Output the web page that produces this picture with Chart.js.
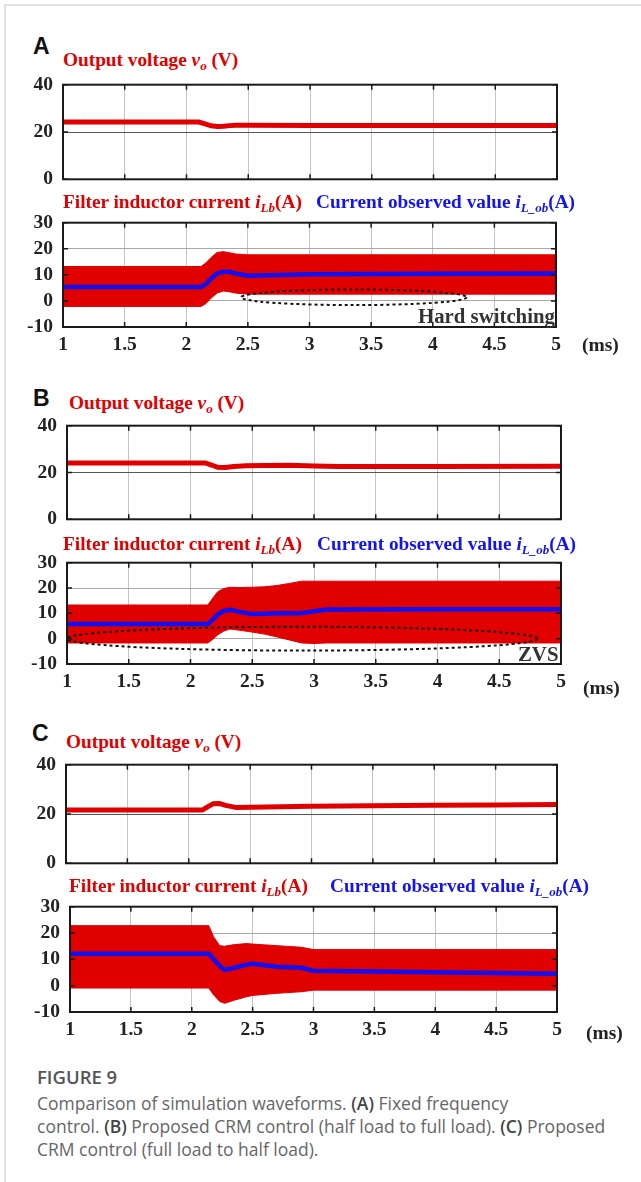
<!DOCTYPE html>
<html>
<head>
<meta charset="utf-8">
<script src="https://cdn.jsdelivr.net/npm/chart.js@4.4.1/dist/chart.umd.min.js"></script>
<style>
body{margin:0;background:#fff}
#fig{position:relative;width:641px;height:1182px;overflow:hidden}
#frame{position:absolute;left:4px;top:4px;width:640px;height:1180px;border-top:2px solid #e2e2e2;border-left:2px solid #e2e2e2}
canvas{position:absolute}
.t{position:absolute;font-family:"Liberation Serif","Times New Roman",serif;font-weight:bold;font-size:19.3px;line-height:19px;white-space:nowrap}
.t sub{font-size:13px;line-height:0;vertical-align:-4px}
.red{color:#e00000}
.blue{color:#1414f0}
.lab{position:absolute;font-family:"Liberation Sans",Arial,sans-serif;font-weight:bold;font-size:23px;line-height:23px;color:#111}
.ms{position:absolute;font-family:"Liberation Serif",serif;font-weight:bold;font-size:19.5px;line-height:20px;color:#222}
.note{position:absolute;font-family:"Liberation Serif",serif;font-weight:bold;font-size:20.8px;line-height:20px;color:#333;white-space:nowrap}
.cap{position:absolute;left:37px;font-family:"Open Sans",sans-serif;font-size:17.5px;line-height:20px;color:#666;white-space:nowrap}
.cap b{color:#444;font-weight:600}
</style>
</head>
<body>
<div id="fig">
  <div id="frame"></div>

  <div class="lab" style="left:33px;top:35px">A</div>
  <div class="t red" style="left:63px;top:50px">Output voltage <i>v<sub>o</sub></i>&nbsp;(V)</div>
  <canvas id="av"></canvas>
  <div class="t red" style="left:63px;top:192px">Filter inductor current <i>i<sub>Lb</sub></i>(A)</div>
  <div class="t blue" style="left:316px;top:192px">Current observed value <i>i<sub>L_ob</sub></i>(A)</div>
  <canvas id="ai"></canvas>
  <div class="note" style="left:418px;top:306px">Hard switching</div>
  <div class="ms" style="left:582px;top:335px">(ms)</div>

  <div class="lab" style="left:33px;top:387px">B</div>
  <div class="t red" style="left:69px;top:393px">Output voltage <i>v<sub>o</sub></i>&nbsp;(V)</div>
  <canvas id="bv"></canvas>
  <div class="t red" style="left:63px;top:534px">Filter inductor current <i>i<sub>Lb</sub></i>(A)</div>
  <div class="t blue" style="left:317px;top:534px">Current observed value <i>i<sub>L_ob</sub></i>(A)</div>
  <canvas id="bi"></canvas>
  <div class="note" style="left:518px;top:644px">ZVS</div>
  <div class="ms" style="left:583px;top:678px">(ms)</div>

  <div class="lab" style="left:32px;top:722px">C</div>
  <div class="t red" style="left:66px;top:732px">Output voltage <i>v<sub>o</sub></i>&nbsp;(V)</div>
  <canvas id="cv"></canvas>
  <div class="t red" style="left:69px;top:876px">Filter inductor current <i>i<sub>Lb</sub></i>(A)</div>
  <div class="t blue" style="left:330px;top:876px">Current observed value <i>i<sub>L_ob</sub></i>(A)</div>
  <canvas id="ci"></canvas>
  <div class="ms" style="left:586px;top:1023px">(ms)</div>

  <div class="cap" style="top:1067px;font-size:18.5px;font-weight:600;color:#555">FIGURE 9</div>
  <div class="cap" style="top:1093px">Comparison of simulation waveforms. <b>(A)</b> Fixed frequency</div>
  <div class="cap" style="top:1116px">control. <b>(B)</b> Proposed CRM control (half load to full load). <b>(C)</b> Proposed</div>
  <div class="cap" style="top:1139px">CRM control (full load to half load).</div>
</div>

<script>
// (A) fixed frequency
const tAv = [1, 2.1, 2.15, 2.2, 2.25, 2.3, 2.35, 2.4, 2.5, 3, 4, 5]
const vA = [24.2, 24.2, 23.4, 22.6, 22.3, 22.4, 22.7, 22.9, 22.9, 22.8, 22.8, 22.8]
const tAi = [1, 2.12, 2.16, 2.2, 2.25, 2.3, 2.35, 2.4, 2.5, 3, 4, 5]
const iAmax = [13.2, 13.2, 14.6, 16.6, 18.6, 18.9, 18.5, 18.0, 17.7, 17.7, 17.7, 17.7]
const iAmin = [-2.1, -2.1, -1.0, 1.0, 3.0, 3.8, 3.5, 3.0, 2.6, 2.6, 2.6, 2.6]
const iAob = [5.3, 5.3, 6.5, 8.5, 10.5, 11.2, 11.2, 10.5, 9.7, 10.2, 10.4, 10.5]

// (B) CRM, half load -> full load
const tBv = [1, 2.12, 2.17, 2.22, 2.28, 2.35, 2.45, 2.6, 2.8, 3.0, 3.2, 4, 5]
const vB = [24.1, 24.1, 23.2, 22.2, 22.1, 22.6, 22.9, 23.0, 23.1, 22.8, 22.6, 22.6, 22.7]
const tBi = [1, 2.14, 2.18, 2.22, 2.27, 2.32, 2.4, 2.5, 2.6, 2.7, 2.8, 2.9, 3.0, 3.1, 4, 5]
const iBmax = [13.3, 13.3, 16.0, 18.5, 19.8, 20.3, 20.2, 20.3, 20.5, 21.0, 21.8, 22.7, 22.7, 22.7, 22.7, 22.7]
const iBmin = [-1.7, -1.7, -0.3, 1.5, 3.0, 3.8, 3.3, 2.6, 1.8, 0.7, -0.5, -1.7, -1.9, -1.7, -1.7, -1.7]
const iBob = [5.8, 5.8, 7.5, 9.5, 11.0, 11.4, 10.6, 9.7, 9.8, 10.0, 10.0, 10.1, 10.8, 11.5, 11.6, 11.6]

// (C) CRM, full load -> half load
const tCv = [1, 2.11, 2.15, 2.2, 2.25, 2.3, 2.39, 2.5, 3, 3.5, 4, 4.5, 5]
const vC = [21.6, 21.6, 22.8, 24.2, 24.3, 23.5, 22.6, 22.7, 23.1, 23.3, 23.5, 23.7, 23.9]
const tCi = [1, 2.14, 2.18, 2.23, 2.27, 2.35, 2.45, 2.5, 2.7, 2.9, 3.0, 4, 5]
const iCmax = [22.8, 22.8, 18.5, 15.2, 15.0, 15.6, 16.0, 15.8, 15.2, 14.6, 13.7, 13.7, 13.7]
const iCmin = [-0.9, -0.9, -3.5, -6.0, -6.7, -5.5, -4.2, -3.7, -2.9, -2.3, -1.7, -1.7, -1.7]
const iCob = [12.1, 12.1, 10.0, 7.5, 6.0, 6.8, 8.0, 8.3, 7.2, 6.8, 5.7, 5.1, 4.5]

// dashed ellipses (data units: ms, A)
const ellA = {cx: 3.36, cy: 1.4, rx: 0.915, ry: 3.0}
const ellB = {cx: 2.905, cy: 0, rx: 1.905, ry: 4.7}

const RED = '#e00000'
const BLUE = '#1010f0'
const tickFont = {family: '"Liberation Serif", "Times New Roman", serif', weight: 'bold', size: 19.5}

function pts(ts, vs){
  return ts.map((t, i) => ({x: t, y: vs[i]}))
}

// box + inward tick marks
const boxPlugin = {
  id: 'box',
  afterDraw(chart){
    const {ctx, chartArea: a, scales: {x, y}} = chart
    ctx.save()
    ctx.strokeStyle = '#1a1a1a'
    ctx.lineWidth = 2
    ctx.strokeRect(a.left, a.top, a.right - a.left, a.bottom - a.top)
    ctx.lineWidth = 1.5
    ctx.beginPath()
    x.ticks.forEach(tk => {
      const px = x.getPixelForValue(tk.value)
      ctx.moveTo(px, a.top); ctx.lineTo(px, a.top + 5)
      ctx.moveTo(px, a.bottom); ctx.lineTo(px, a.bottom - 5)
    })
    y.ticks.forEach(tk => {
      const py = y.getPixelForValue(tk.value)
      ctx.moveTo(a.left, py); ctx.lineTo(a.left + 5, py)
      ctx.moveTo(a.right, py); ctx.lineTo(a.right - 5, py)
    })
    ctx.stroke()
    ctx.restore()
  }
}

function ellipsePlugin(e){
  return {
    id: 'ell',
    afterDatasetsDraw(chart){
      const {ctx, scales: {x, y}} = chart
      const cx = x.getPixelForValue(e.cx), cy = y.getPixelForValue(e.cy)
      const rx = x.getPixelForValue(e.cx + e.rx) - cx
      const ry = cy - y.getPixelForValue(e.cy + e.ry)
      ctx.save()
      ctx.setLineDash([3, 3])
      ctx.lineWidth = 2
      ctx.strokeStyle = '#111'
      ctx.beginPath()
      ctx.ellipse(cx, cy, rx, ry, 0, 0, Math.PI * 2)
      ctx.stroke()
      ctx.restore()
    }
  }
}

function makeChart(id, rect, datasets, yr, showX, extra){
  const padL = 60, padT = 14, padR = 14, padB = showX ? 34 : 14
  const cv = document.getElementById(id)
  const w = rect.r - rect.l + padL + padR
  const h = rect.b - rect.t + padT + padB
  cv.width = w; cv.height = h
  cv.style.width = w + 'px'; cv.style.height = h + 'px'
  cv.style.left = (rect.l - padL) + 'px'; cv.style.top = (rect.t - padT) + 'px'
  return new Chart(cv, {
    type: 'line',
    data: {datasets},
    options: {
      responsive: false,
      animation: false,
      devicePixelRatio: 1,
      layout: {padding: {left: 0, top: padT, right: padR, bottom: 0}},
      plugins: {legend: {display: false}, tooltip: {enabled: false}},
      elements: {point: {radius: 0}, line: {tension: 0}},
      scales: {
        x: {
          type: 'linear', min: 1, max: 5,
          afterFit: s => { s.height = padB },
          border: {display: false},
          grid: {color: '#c4c4c4', drawTicks: false},
          ticks: {display: showX, stepSize: 0.5, padding: 6, color: '#222', font: tickFont,
                  maxRotation: 0, autoSkip: false, callback: v => String(v)}
        },
        y: {
          min: yr[0], max: yr[1],
          afterFit: s => { s.width = padL },
          border: {display: false},
          grid: {color: yr[3], drawTicks: false},
          ticks: {stepSize: yr[2], padding: 10, color: '#222', font: tickFont, autoSkip: false}
        }
      }
    },
    plugins: [boxPlugin].concat(extra || [])
  })
}

function voltageSet(ts, vs){
  return [{data: pts(ts, vs), borderColor: RED, borderWidth: 5, fill: false}]
}

function currentSet(ts, hi, lo, ob){
  return [
    {data: pts(ts, ob), borderColor: BLUE, borderWidth: 4.5, fill: false, order: 0},
    {data: pts(ts, lo), borderColor: RED, borderWidth: 1, fill: false, order: 1},
    {data: pts(ts, hi), borderColor: RED, borderWidth: 1, backgroundColor: RED, fill: '-1', order: 2}
  ]
}

const vRange = [0, 40, 20, '#555']
const iRange = [-10, 30, 10, '#a8a8a8']

makeChart('av', {l: 63, r: 557, t: 77, b: 187}, voltageSet(tAv, vA), vRange, false)
makeChart('ai', {l: 63, r: 556, t: 215, b: 327}, currentSet(tAi, iAmax, iAmin, iAob), iRange, true, [ellipsePlugin(ellA)])
makeChart('bv', {l: 67, r: 561, t: 418, b: 527}, voltageSet(tBv, vB), vRange, false)
makeChart('bi', {l: 67, r: 561, t: 555, b: 664}, currentSet(tBi, iBmax, iBmin, iBob), iRange, true, [ellipsePlugin(ellB)])
makeChart('cv', {l: 66, r: 557, t: 757, b: 871}, voltageSet(tCv, vC), vRange, false)
makeChart('ci', {l: 70, r: 557, t: 899, b: 1012}, currentSet(tCi, iCmax, iCmin, iCob), iRange, true)
</script>
</body>
</html>
